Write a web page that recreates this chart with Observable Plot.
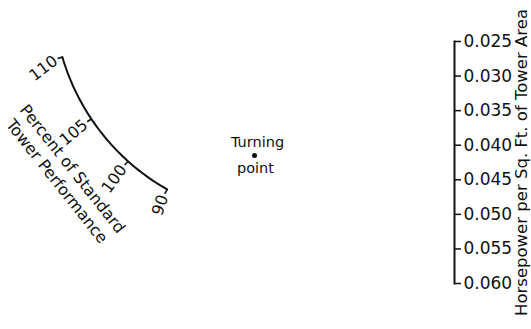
<!DOCTYPE html>
<html><head><meta charset="utf-8">
<script src="https://cdn.jsdelivr.net/npm/d3@7"></script>
<script src="https://cdn.jsdelivr.net/npm/@observablehq/plot@0.6"></script>
<style>body{margin:0;background:#fff}#chart{width:531px;height:329px}</style>
</head><body><div id="chart"></div>
<script>
// ---- data ----
const hpTicks = [0.025, 0.030, 0.035, 0.040, 0.045, 0.050, 0.055, 0.060];
const hpTitle = "Horsepower per Sq. Ft. of Tower Area";
const perfTicks = [110, 105, 100, 90];
const perfTitle = ["Percent of Standard", "Tower Performance"];
const turningLabel = ["Turning", "point"];

// ---- layout ----
const W = 531, H = 329;
const margin = {top: 41, right: 77, bottom: 46, left: 0};
const arc = {cx: 277.8, cy: -6.7, r: 225};
const perfAngle = d3.scaleLinear().domain([90, 100, 105, 110]).range([119.6, 131.9, 146.2, 163.65]);
const labelTilt = d3.scaleLinear().domain([90, 100, 105, 110]).range([-10, -6, -6, -21]);
const tickLen = 5, labelGap = 2;
const font = "DejaVu Sans";

const yScale = Plot.scale({y: {domain: [0.025, 0.060], range: [margin.top, H - margin.bottom]}});
const Y = py => yScale.invert(py);
const rad = d => d * Math.PI / 180;
const onArc = (deg, extra = 0) => {
  const r = arc.r + extra;
  return {x: arc.cx + r * Math.cos(rad(deg)), y: Y(arc.cy + r * Math.sin(rad(deg)))};
};

const a0 = perfAngle(d3.max(perfTicks)), a1 = perfAngle(d3.min(perfTicks));
const arcPts = d3.range(0, 1.0001, 0.02).map(t => onArc(a0 + (a1 - a0) * t));

const tickSegs = perfTicks.map(v => {
  const p = onArc(perfAngle(v)), q = onArc(perfAngle(v), tickLen);
  return {x1: p.x, y1: p.y, x2: q.x, y2: q.y};
});
const tickLabels = perfTicks.map(v => {
  const p = onArc(perfAngle(v), tickLen + labelGap);
  return {x: p.x, y: p.y, text: String(v), rotate: perfAngle(v) - 180 + labelTilt(v)};
});

const titleCenter = {x: 65, y: Y(174)};
const turning = {x: 254, y: Y(155)};

const chart = Plot.plot({
  width: W, height: H,
  marginTop: margin.top, marginRight: margin.right, marginBottom: margin.bottom, marginLeft: margin.left,
  style: {fontFamily: font, background: "#fff", color: "#111"},
  x: {type: "identity", axis: null},
  y: {domain: [0.025, 0.060], range: [margin.top, H - margin.bottom], axis: null},
  marks: [
    Plot.frame({anchor: "right", strokeWidth: 2}),
    Plot.axisY(hpTicks, {anchor: "right", tickFormat: d3.format(".3f"), tickSize: 6, tickPadding: 3,
      fontSize: 17, strokeWidth: 1.5, label: null}),
    Plot.text([hpTitle], {frameAnchor: "right", y: [d3.mean(d3.extent(hpTicks))], text: d => d,
      rotate: -90, dx: 67, fontSize: 16.5, textAnchor: "middle", lineAnchor: "middle"}),
    Plot.line(arcPts, {x: "x", y: "y", strokeWidth: 2, curve: "linear"}),
    Plot.link(tickSegs, {x1: "x1", y1: "y1", x2: "x2", y2: "y2", strokeWidth: 1.6}),
    Plot.text(tickLabels, {x: "x", y: "y", text: "text", rotate: "rotate", textAnchor: "end",
      lineAnchor: "middle", fontSize: 16}),
    Plot.text([perfTitle.join("\n")], {x: [titleCenter.x], y: [titleCenter.y], text: d => d,
      rotate: 51.6, textAnchor: "middle", lineAnchor: "middle", lineHeight: 1.25, fontSize: 16}),
    Plot.dot([turning], {x: "x", y: "y", r: 2.5, fill: "#111", stroke: null}),
    Plot.text([turning], {x: "x", y: "y", text: () => turningLabel[0], dy: -13, dx: 3, fontSize: 14.5, lineAnchor: "middle"}),
    Plot.text([turning], {x: "x", y: "y", text: () => turningLabel[1], dy: 13, dx: 1, fontSize: 14.5, lineAnchor: "middle"})
  ]
});
document.getElementById("chart").appendChild(chart);
</script>
</body></html>
